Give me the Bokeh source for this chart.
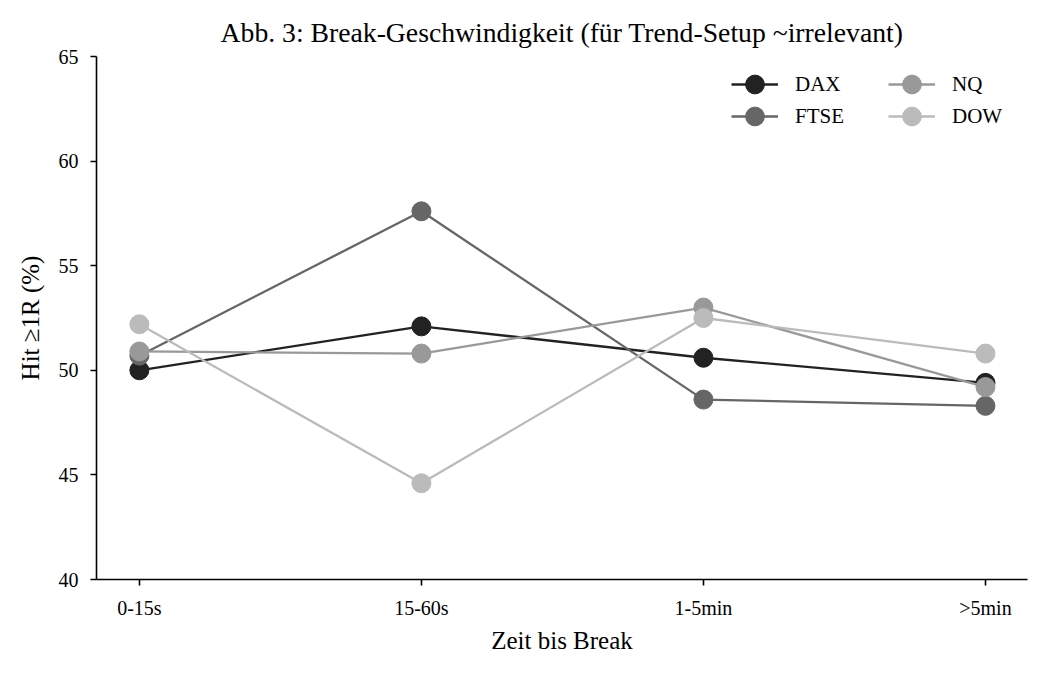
from bokeh.plotting import figure
from bokeh.models import FixedTicker, Range1d, Legend, LegendItem
from bokeh.embed import file_html
from bokeh.resources import INLINE

categories = ["0-15s", "15-60s", "1-5min", ">5min"]
dax = [50.0, 52.1, 50.6, 49.4]
ftse = [50.7, 57.6, 48.6, 48.3]
nq = [50.9, 50.8, 53.0, 49.2]
dow = [52.2, 44.6, 52.5, 50.8]
y_ticks = [40, 45, 50, 55, 60, 65]

series = [("DAX", dax, "#222222"), ("FTSE", ftse, "#666666"),
          ("NQ", nq, "#999999"), ("DOW", dow, "#bbbbbb")]

FONT = "Liberation Serif"
xs = list(range(len(categories)))

p = figure(width=1046, height=674, output_backend="svg", toolbar_location=None,
           x_range=Range1d(-0.152, 3.149), y_range=Range1d(40, 65),
           title="Abb. 3: Break-Geschwindigkeit (für Trend-Setup ~irrelevant)")
p.min_border_left = 96
p.min_border_right = 19
p.min_border_top = 56
p.min_border_bottom = 95
p.outline_line_color = None
p.grid.grid_line_color = None
p.background_fill_color = "white"
p.border_fill_color = "white"

p.title.text_font = FONT
p.title.text_font_size = "27.7px"
p.title.text_font_style = "normal"
p.title.align = "center"
p.title.text_color = "black"
p.title.standoff = 18

items = {}
for name, vals, col in series:
    l = p.line(xs, vals, line_color=col, line_width=2.3)
    s = p.scatter(xs, vals, size=19, fill_color=col, line_color=col)
    items[name] = LegendItem(label=name, renderers=[l, s])


def make_legend(names, loc):
    lg = Legend(items=[items[n] for n in names], orientation="horizontal", location=loc)
    lg.border_line_color = None
    lg.background_fill_alpha = 0
    lg.label_text_font = FONT
    lg.label_text_font_size = "21px"
    lg.label_text_color = "black"
    lg.glyph_width = 47
    lg.glyph_height = 52
    lg.label_height = 52
    lg.label_width = 93
    lg.spacing = 0
    lg.margin = 0
    lg.padding = 0
    lg.label_standoff = 17
    p.add_layout(lg)


make_legend(["DAX", "NQ"], (635, 469))
make_legend(["FTSE", "DOW"], (635, 437))

p.xaxis.ticker = FixedTicker(ticks=xs)
p.xaxis.major_label_overrides = {i: c for i, c in enumerate(categories)}
p.yaxis.ticker = FixedTicker(ticks=y_ticks)
for ax in (p.xaxis, p.yaxis):
    ax.major_label_text_font = FONT
    ax.major_label_text_font_size = "20px"
    ax.axis_label_text_font = FONT
    ax.axis_label_text_font_size = "25px"
    ax.axis_label_text_font_style = "normal"
    ax.major_tick_in = 0
    ax.major_tick_out = 6
    ax.minor_tick_line_color = None
    ax.axis_line_width = 1.6
    ax.major_tick_line_width = 1.6
    ax.major_label_text_color = "black"
    ax.axis_label_text_color = "black"
p.xaxis.major_label_standoff = 11
p.yaxis.major_label_standoff = 12
p.xaxis.axis_label_standoff = 5
p.yaxis.axis_label_standoff = 12
p.xaxis.axis_label = "Zeit bis Break"
p.yaxis.axis_label = "Hit ≥1R (%)"

open("out.html", "w").write(file_html(p, INLINE))
